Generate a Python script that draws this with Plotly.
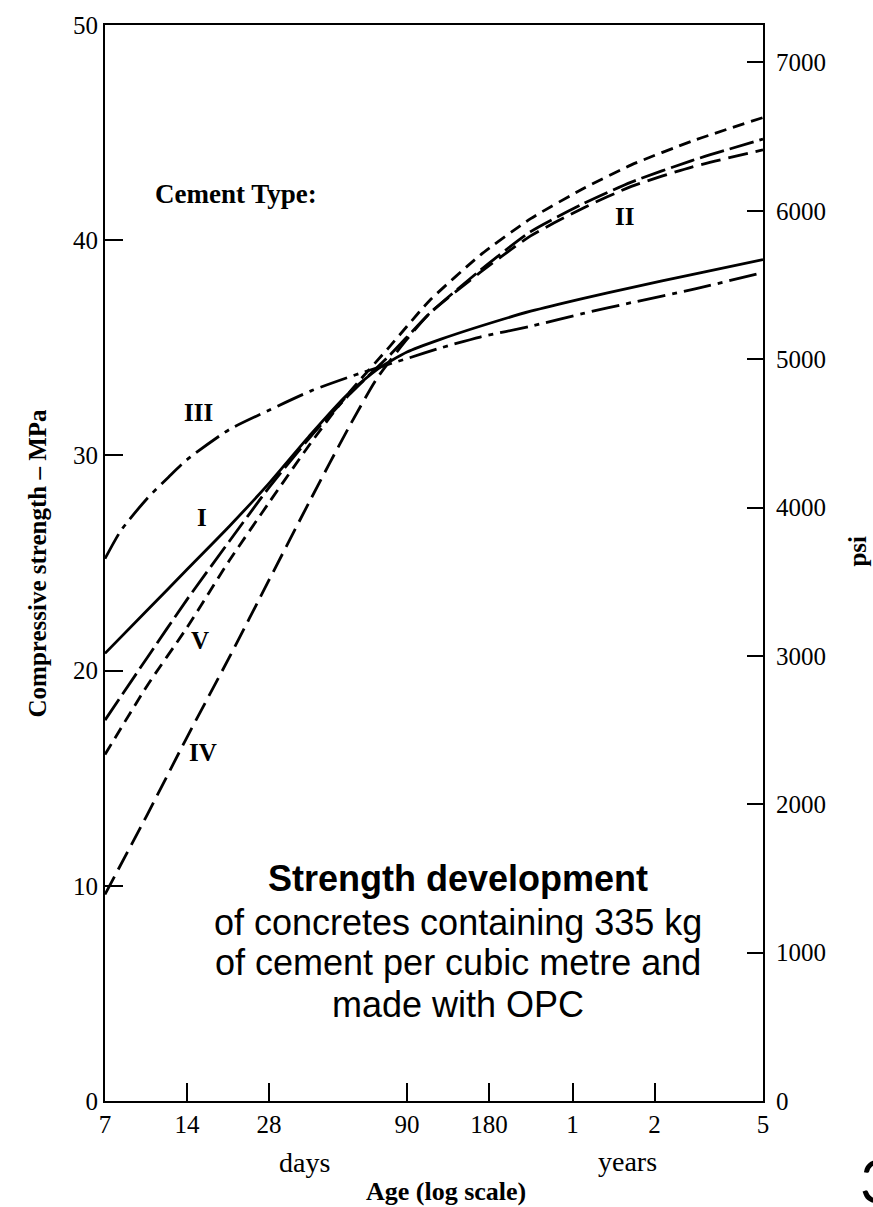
import math
import plotly.graph_objects as go

# ---------------- data (age in days, strength in MPa) ----------------
age_I = [7, 10, 14, 20, 28, 40, 54, 70, 90, 120, 167, 256, 400, 600, 1000, 1826]
mpa_I = [20.8, 22.8, 24.7, 26.7, 28.7, 31.0, 32.8, 34.0, 34.8, 35.4, 36.0, 36.7, 37.3, 37.8, 38.4, 39.1]

age_II = [7, 10, 14, 20, 28, 40, 55, 77, 90, 109, 167, 256, 400, 600, 1000, 1826]
mpa_II = [16.1, 19.3, 22.0, 25.1, 27.8, 30.6, 32.9, 35.0, 36.0, 37.2, 39.3, 41.0, 42.4, 43.5, 44.6, 45.7]

age_III = [7, 8, 10, 12, 14, 20, 28, 40, 60, 90, 120, 167, 256, 400, 600, 1000, 1826]
mpa_III = [25.2, 26.5, 28.0, 29.0, 29.8, 31.2, 32.1, 33.0, 33.8, 34.5, 35.0, 35.5, 36.0, 36.6, 37.1, 37.7, 38.5]

age_IV = [7, 10, 14, 20, 28, 40, 55, 70, 90, 109, 167, 256, 400, 600, 1000, 1826]
mpa_IV = [9.6, 13.3, 16.9, 20.6, 24.2, 28.0, 31.3, 33.6, 35.4, 36.6, 38.5, 40.2, 41.5, 42.5, 43.4, 44.2]

age_V = [7, 10, 14, 20, 28, 40, 55, 77, 90, 109, 167, 256, 400, 600, 1000, 1826]
mpa_V = [17.7, 20.6, 23.3, 26.0, 28.5, 30.9, 32.8, 34.6, 35.5, 36.6, 38.6, 40.4, 41.7, 42.7, 43.7, 44.7]

tick_days = [7, 14, 28, 90, 180, 365, 730, 1826]
tick_text = ["7", "14", "28", "90", "180", "1", "2", "5"]
mpa_ticks = [0, 10, 20, 30, 40, 50]
psi_ticks = [0, 1000, 2000, 3000, 4000, 5000, 6000, 7000]
MPA_TO_PSI = 145.038

# curve labels: (text, age in days, MPa)
curve_labels = [("III", 15.4, 32.0), ("I", 15.9, 27.1), ("V", 15.6, 21.4),
                ("IV", 16.0, 16.2), ("II", 568, 41.1)]

# ---------------- figure ----------------
W, H = 873, 1207
L, R, T, B = 105, 110, 18, 106
PW, PH = W - L - R, H - T - B

def px(x):
    return (x - L) / PW

def py(y):
    return (H - B - y) / PH

SERIF = "Liberation Serif, Times New Roman, serif"
SANS = "Liberation Sans, Arial, sans-serif"

fig = go.Figure()
series = [
    ("I", age_I, mpa_I, "solid"),
    ("II", age_II, mpa_II, "12px,7px"),
    ("III", age_III, mpa_III, "28px,7px,5px,7px"),
    ("IV", age_IV, mpa_IV, "20px,8px"),
    ("V", age_V, mpa_V, "25px,6px"),
]
for name, xs, ys, dash in series:
    fig.add_trace(go.Scatter(
        x=xs, y=ys, mode="lines", name=name,
        line=dict(color="black", width=2.8, dash=dash, shape="spline", smoothing=0.6),
        hoverinfo="skip", showlegend=False))

# helper trace so the psi axis is drawn
fig.add_trace(go.Scatter(x=[7], y=[0], yaxis="y2", mode="markers",
                         marker=dict(opacity=0), hoverinfo="skip", showlegend=False))

tickfont = dict(family=SERIF, size=25, color="black")
fig.update_layout(
    width=W, height=H,
    margin=dict(l=L, r=R, t=T, b=B),
    paper_bgcolor="white", plot_bgcolor="white",
    xaxis=dict(type="log", range=[math.log10(7), math.log10(1826)],
               tickvals=tick_days, ticktext=tick_text,
               ticks="inside", ticklen=18, tickwidth=1.5, tickcolor="black",
               showline=True, linecolor="black", linewidth=2, mirror=True,
               showgrid=False, zeroline=False, tickfont=tickfont),
    yaxis=dict(range=[0, 50], tickvals=mpa_ticks,
               ticks="inside", ticklen=18, tickwidth=1.5, tickcolor="black",
               showline=True, linecolor="black", linewidth=2,
               showgrid=False, zeroline=False, tickfont=tickfont),
    yaxis2=dict(overlaying="y", side="right", range=[0, 50 * MPA_TO_PSI],
                tickvals=psi_ticks, ticks="inside", ticklen=16, tickwidth=1.5,
                tickcolor="black", showline=True, linecolor="black", linewidth=2,
                showgrid=False, zeroline=False,
                tickfont=dict(family=SERIF, size=25, color="black"),
                ticklabelstandoff=6),
)

ann = []
def add(text, x, y, size, family=SERIF, xanchor="center", angle=0, xref="paper", yref="paper"):
    ann.append(dict(text=text, x=x, y=y, xref=xref, yref=yref, showarrow=False,
                    xanchor=xanchor, yanchor="middle", textangle=angle,
                    font=dict(family=family, size=size, color="black")))

add("<b>Compressive strength – MPa</b>", px(37), py(560), 25, angle=-90)
add("<b>psi</b>", px(858), py(548), 25, angle=-90)
add("days", px(304), py(1163), 28)
add("years", px(627), py(1162), 28)
add("<b>Age (log scale)</b>", px(446), py(1192), 26)
add("<b>Cement Type:</b>", px(153), py(188), 27, xanchor="left")
for txt, d, m in curve_labels:
    add("<b>%s</b>" % txt, math.log10(d), m, 25, xref="x", yref="y")

add("<b>Strength development</b>", px(458), py(877), 36, family=SANS)
add("of concretes containing 335 kg", px(458), py(921), 36, family=SANS)
add("of cement per cubic metre and", px(458), py(962), 36, family=SANS)
add("made with OPC", px(458), py(1004), 36, family=SANS)
add("3", px(858), py(1181), 60, family="Lato, Noto Sans, sans-serif", xanchor="left")

fig.update_layout(annotations=ann)
fig.write_html("out.html")
